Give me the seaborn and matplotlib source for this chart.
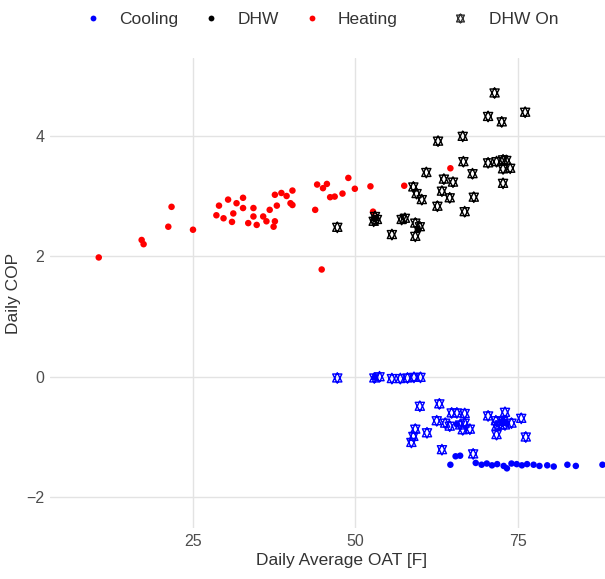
import numpy as np
import pandas as pd
import matplotlib
matplotlib.use("Agg")
import matplotlib.pyplot as plt
from matplotlib.path import Path
from matplotlib.lines import Line2D
import seaborn as sns

# Heating days (dots)
heat_x = [10.5, 17.1, 17.4, 21.7, 21.2, 25.0, 29.0, 30.4, 31.7, 32.7, 28.6, 29.7, 31.2, 31.0,
          32.7, 34.3, 33.5, 34.8, 34.3, 35.8, 36.3, 37.4, 37.6, 36.8, 37.9, 37.6, 38.6, 39.4,
          40.3, 40.0, 40.3, 43.8, 44.1, 45.0, 45.6, 46.1, 46.8, 48.0, 48.9, 49.9, 44.8, 52.3,
          52.7, 57.5, 64.6]
heat_y = [1.98, 2.27, 2.20, 2.82, 2.49, 2.44, 2.84, 2.94, 2.88, 2.97, 2.68, 2.63, 2.71, 2.57,
          2.80, 2.80, 2.55, 2.52, 2.66, 2.66, 2.58, 2.49, 2.58, 2.77, 2.84, 3.02, 3.05, 3.00,
          3.09, 2.88, 2.85, 2.77, 3.19, 3.13, 3.20, 2.98, 2.99, 3.04, 3.30, 3.12, 1.78, 3.16,
          2.74, 3.17, 3.46]

# DHW days without DHW-on flag (dots)
dhw_x = [53.0, 59.6]
dhw_y = [2.62, 2.45]

# Cooling days (dots)
cool_x = [53.0, 64.6, 65.4, 66.1, 68.5, 69.4, 70.2, 71.0, 71.8, 72.8, 73.3, 74.0, 74.8, 75.6,
          76.4, 77.4, 78.3, 79.5, 80.5, 82.6, 83.9, 88.0, 72.7, 73.3, 65.6]
cool_y = [-0.01, -1.46, -1.32, -1.31, -1.43, -1.46, -1.44, -1.47, -1.45, -1.48, -1.52, -1.44,
          -1.45, -1.47, -1.45, -1.46, -1.48, -1.47, -1.49, -1.46, -1.48, -1.46, -0.73, -0.78, -0.79]

# DHW On days, DHW mode (stars)
dhw_on_x = [47.2, 53.0, 53.3, 52.8, 55.6, 57.1, 57.6, 59.2, 59.9, 59.2, 58.9, 59.4, 60.2, 60.9,
            62.6, 62.7, 63.3, 63.6, 64.5, 65.0, 66.5, 66.6, 66.8, 68.0, 68.2, 70.4, 71.4, 72.5,
            70.4, 71.7, 72.7, 73.2, 72.7, 73.8, 72.7, 76.1]
dhw_on_y = [2.48, 2.66, 2.61, 2.58, 2.36, 2.61, 2.63, 2.55, 2.49, 2.33, 3.15, 3.04, 2.94, 3.39,
            2.83, 3.91, 3.08, 3.28, 2.97, 3.23, 3.99, 3.57, 2.74, 3.37, 2.98, 4.32, 4.71, 4.23,
            3.55, 3.57, 3.60, 3.59, 3.45, 3.46, 3.21, 4.39]

# DHW On days, cooling mode (stars)
cool_on_x = [47.2, 52.9, 53.7, 55.6, 56.9, 58.0, 59.0, 60.0, 59.9, 62.9, 64.8, 65.6, 66.8, 62.5,
             63.8, 64.5, 66.1, 66.8, 66.5, 67.6, 59.2, 61.0, 58.9, 58.6, 63.3, 68.1, 70.4, 73.0,
             75.5, 71.6, 72.7, 72.2, 71.7, 73.0, 74.0, 71.7, 76.2]
cool_on_y = [-0.02, -0.02, 0.00, -0.03, -0.03, -0.02, -0.01, -0.01, -0.49, -0.45, -0.60, -0.60,
             -0.61, -0.73, -0.77, -0.82, -0.80, -0.77, -0.88, -0.87, -0.87, -0.93, -0.99, -1.09,
             -1.21, -1.28, -0.65, -0.59, -0.69, -0.73, -0.74, -0.80, -0.82, -0.80, -0.77, -0.96, -1.00]

modes = ["Cooling", "DHW", "Heating"]
mode_colors = {"Cooling": "#0000FF", "DHW": "#000000", "Heating": "#FF0000"}

df_dots = pd.concat([
    pd.DataFrame({"OAT": cool_x, "COP": cool_y, "Mode": "Cooling"}),
    pd.DataFrame({"OAT": dhw_x, "COP": dhw_y, "Mode": "DHW"}),
    pd.DataFrame({"OAT": heat_x, "COP": heat_y, "Mode": "Heating"}),
])
df_on = pd.concat([
    pd.DataFrame({"OAT": cool_on_x, "COP": cool_on_y, "Mode": "Cooling"}),
    pd.DataFrame({"OAT": dhw_on_x, "COP": dhw_on_y, "Mode": "DHW"}),
])

# R pch 11: triangle point-up over triangle point-down
r, yc, xc = 1.5551, 1.1664, 1.3468
verts = [(0, r), (-xc, -yc), (xc, -yc), (0, r),
         (0, -r), (-xc, yc), (xc, yc), (0, -r)]
codes = [Path.MOVETO, Path.LINETO, Path.LINETO, Path.CLOSEPOLY] * 2
star = Path(verts, codes)

sns.set_theme(style="whitegrid")
plt.rcParams["font.family"] = ["Liberation Sans", "DejaVu Sans"]

fig = plt.figure(figsize=(6.05, 5.79), dpi=100)
ax = fig.add_axes([50 / 605, 51 / 579, 584 / 605, 470 / 579])
ax.set_facecolor("white")

sns.scatterplot(data=df_dots, x="OAT", y="COP", hue="Mode", palette=mode_colors,
                hue_order=modes, s=22, linewidth=0, legend=False, ax=ax)
n_before = len(ax.collections)
sns.scatterplot(data=df_on, x="OAT", y="COP", hue="Mode", palette=mode_colors,
                hue_order=modes, marker=star, s=58, linewidth=1.0, legend=False, ax=ax)
for coll in ax.collections[n_before:]:
    fc = coll.get_facecolors()
    coll.set_edgecolors(fc)
    coll.set_facecolor("none")

ax.set_xlim(3.0, 92.85)
ax.set_ylim(-2.51, 5.29)
ax.set_xticks([25, 50, 75])
ax.set_yticks([-2, 0, 2, 4])
ax.grid(True, color="#E3E3E3", linewidth=1.0)
for sp in ax.spines.values():
    sp.set_visible(False)
ax.tick_params(axis="both", length=0, labelsize=11.5, labelcolor="#4D4D4D", pad=4)
ax.set_xlabel("Daily Average OAT [F]", fontsize=12.5, color="#333333", labelpad=3)
ax.set_ylabel("Daily COP", fontsize=12.5, color="#333333", labelpad=4)

color_handles = [Line2D([], [], linestyle="none", marker="o", markersize=4.2,
                        markerfacecolor=mode_colors[m], markeredgewidth=0) for m in modes]
leg1 = fig.legend(color_handles, modes, loc="center", bbox_to_anchor=(241 / 605, 1 - 19 / 579),
                  ncol=3, frameon=False, fontsize=12.5, handlelength=1, handletextpad=1.0,
                  columnspacing=1.4, labelcolor="#333333")
star_handle = Line2D([], [], linestyle="none", marker=star, markersize=6.5,
                     markerfacecolor="none", markeredgecolor="#333333", markeredgewidth=1.0)
leg2 = fig.legend([star_handle], ["DHW On"], loc="center", bbox_to_anchor=(505 / 605, 1 - 19 / 579),
                  frameon=False, fontsize=12.5, handlelength=1, handletextpad=1.2,
                  labelcolor="#333333")

fig.savefig("out.png", dpi=100)
